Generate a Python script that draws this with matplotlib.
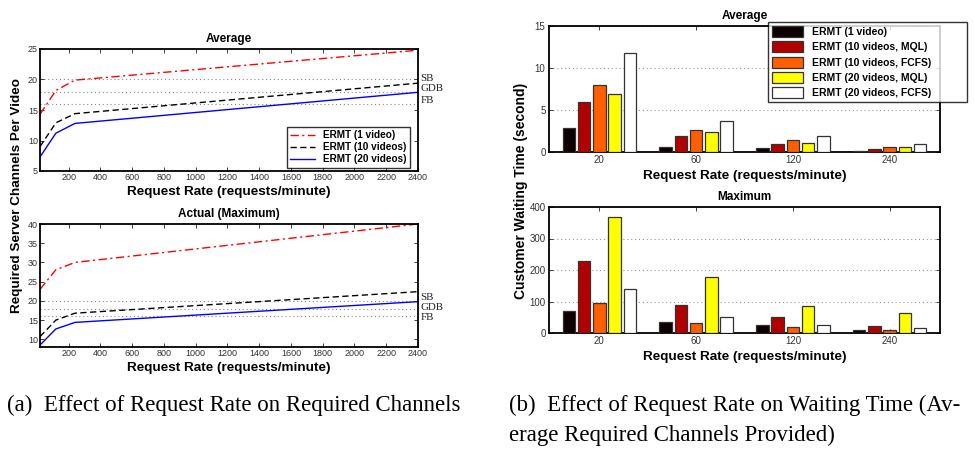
import matplotlib
matplotlib.use("Agg")
import matplotlib.pyplot as plt
import numpy as np

# ---- data ----
rate = [20, 120, 240, 2400]
avg_1video = [14.3, 18.2, 19.9, 24.8]
avg_10videos = [9.0, 12.9, 14.4, 19.4]
avg_20videos = [7.3, 11.2, 12.8, 17.9]
max_1video = [23.0, 28.1, 30.0, 40.0]
max_10videos = [10.7, 15.0, 16.8, 22.4]
max_20videos = [8.5, 12.7, 14.4, 19.8]
ref_names = ["SB", "GDB", "FB"]
ref_values = [20, 18, 16]

bar_categories = ["20", "60", "120", "240"]
bar_series = ["ERMT (1 video)", "ERMT (10 videos, MQL)", "ERMT (10 videos, FCFS)",
              "ERMT (20 videos, MQL)", "ERMT (20 videos, FCFS)"]
wait_avg = {
    "ERMT (1 video)": [2.8, 0.6, 0.45, 0.15],
    "ERMT (10 videos, MQL)": [6.0, 1.9, 1.0, 0.4],
    "ERMT (10 videos, FCFS)": [8.0, 2.6, 1.4, 0.6],
    "ERMT (20 videos, MQL)": [6.9, 2.4, 1.1, 0.6],
    "ERMT (20 videos, FCFS)": [11.8, 3.7, 1.9, 1.0],
}
wait_max = {
    "ERMT (1 video)": [70, 36, 24, 10],
    "ERMT (10 videos, MQL)": [228, 88, 52, 23],
    "ERMT (10 videos, FCFS)": [95, 32, 20, 9.5],
    "ERMT (20 videos, MQL)": [368, 179, 85, 62],
    "ERMT (20 videos, FCFS)": [141, 52, 25, 16],
}
bar_colors = ["#0d0000", "#b00000", "#ff5f00", "#ffff00", "#ffffff"]

W, H = 975, 451
fig = plt.figure(figsize=(W / 100, H / 100), dpi=100)
plt.rcParams['font.family'] = ['Liberation Sans', 'DejaVu Sans']

def px_axes(x0, y0, x1, y1):
    return fig.add_axes([x0 / W, 1 - y1 / H, (x1 - x0) / W, (y1 - y0) / H])

def style(ax, labelsize, pad):
    ax.tick_params(direction='in', top=True, right=True, labelsize=labelsize, length=3,
                   width=0.6, pad=pad, colors='#222222', labelcolor='#333333')
    for s in ax.spines.values():
        s.set_linewidth(1.3)

LAB_FS = 9.7
TITLE_FS = 8.5

# ---- left line charts ----
def line_chart(ax, y1, y2, y3, ylim, yticks, title, lab_y, legend):
    ax.plot(rate, y1, color='red', linestyle=(0, (6, 2.5, 1.5, 2.5)), lw=1.0, label="ERMT (1 video)")
    ax.plot(rate, y2, color='black', linestyle=(0, (4.5, 2.5)), lw=1.0, label="ERMT (10 videos)")
    ax.plot(rate, y3, color='blue', linestyle='-', lw=1.0, label="ERMT (20 videos)")
    for v in ref_values:
        ax.axhline(v, color='#888888', linestyle=(0, (1, 2.5)), lw=0.8, zorder=0)
    for name, yy in zip(ref_names, lab_y):
        ax.text(1.006, yy, name, transform=ax.get_yaxis_transform(), family='Liberation Serif',
                fontsize=7.8, va='center', ha='left', color='#222222')
    ax.set_xlim(20, 2400)
    ax.set_ylim(*ylim)
    ax.set_xticks(np.arange(200, 2401, 200))
    ax.set_yticks(yticks)
    style(ax, 6.5, 1.5)
    ax.set_title(title, fontsize=TITLE_FS, fontweight='bold', pad=5)
    ax.set_xlabel("Request Rate (requests/minute)", fontsize=LAB_FS, fontweight='bold', labelpad=3)
    if legend:
        leg = ax.legend(loc='lower right', bbox_to_anchor=((410 - 40) / 378, 3 / 122),
                        prop={'weight': 'bold', 'size': 7.2},
                        frameon=True, fancybox=False, edgecolor='black', borderpad=0.35,
                        handlelength=2.5, labelspacing=0.2, borderaxespad=0.0,
                        handletextpad=0.8)
        leg.get_frame().set_linewidth(1.0)

ax1 = px_axes(40, 49, 418, 171)
line_chart(ax1, avg_1video, avg_10videos, avg_20videos, (5, 25), [5, 10, 15, 20, 25],
           "Average", [20.1, 18.5, 16.5], True)
ax2 = px_axes(40, 224, 418, 347)
line_chart(ax2, max_1video, max_10videos, max_20videos, (8, 40), [10, 15, 20, 25, 30, 35, 40],
           "Actual (Maximum)", [20.8, 18.4, 15.8], False)
fig.text(17 / W, 1 - 195.5 / H, "Required Server Channels Per Video", rotation=90,
         fontsize=LAB_FS, fontweight='bold', ha='center', va='center')

# ---- right bar charts ----
def bar_chart(ax, data, ylim, yticks, title, legend):
    x = np.arange(1, len(bar_categories) + 1)
    n = len(bar_series)
    step = 0.158
    width = 0.128
    for i, (name, c) in enumerate(zip(bar_series, bar_colors)):
        ax.bar(x + (i - (n - 1) / 2) * step, data[name], width=width, color=c,
               edgecolor='#333333', linewidth=0.9, label=name, zorder=3)
    ax.set_xlim(0.48, 4.52)
    ax.set_ylim(*ylim)
    ax.set_xticks(x)
    ax.set_xticklabels(bar_categories)
    ax.set_yticks(yticks)
    ax.yaxis.grid(True, color='#999999', linestyle=(0, (1, 2.5)), lw=0.8)
    style(ax, 7, 2.5)
    ax.set_title(title, fontsize=TITLE_FS, fontweight='bold', pad=5)
    ax.set_xlabel("Request Rate (requests/minute)", fontsize=LAB_FS, fontweight='bold', labelpad=3)
    if legend:
        leg = ax.legend(loc='upper left',
                        bbox_to_anchor=((768 - 549) / 391, 0.0, (967 - 768) / 391, (152 - 22) / 126),
                        mode='expand', prop={'weight': 'bold', 'size': 7.5}, frameon=True,
                        fancybox=False, edgecolor='black', borderpad=0.4, handlelength=3.0,
                        handleheight=1.25, labelspacing=0.41, borderaxespad=0.0,
                        handletextpad=0.87)
        leg.get_frame().set_linewidth(1.0)
        leg.set_zorder(10)

ax3 = px_axes(549, 26, 940, 152)
bar_chart(ax3, wait_avg, (0, 15), [0, 5, 10, 15], "Average", True)
ax4 = px_axes(549, 207, 940, 333)
bar_chart(ax4, wait_max, (0, 400), [0, 100, 200, 300, 400], "Maximum", False)
fig.text(521 / W, 1 - 191 / H, "Customer Waiting Time (second)", rotation=90,
         fontsize=10.0, fontweight='bold', ha='center', va='center')

# ---- captions ----
CAP_FS = 16.5
fig.text(7 / W, 1 - 405 / H, "(a)  Effect of Request Rate on Required Channels",
         family='Liberation Serif', fontsize=CAP_FS, ha='left', va='center')
fig.text(509 / W, 1 - 405 / H, "(b)  Effect of Request Rate on Waiting Time (Av-",
         family='Liberation Serif', fontsize=CAP_FS, ha='left', va='center')
fig.text(509 / W, 1 - 435 / H, "erage Required Channels Provided)",
         family='Liberation Serif', fontsize=CAP_FS, ha='left', va='center')

fig.savefig("out.png", dpi=100)
